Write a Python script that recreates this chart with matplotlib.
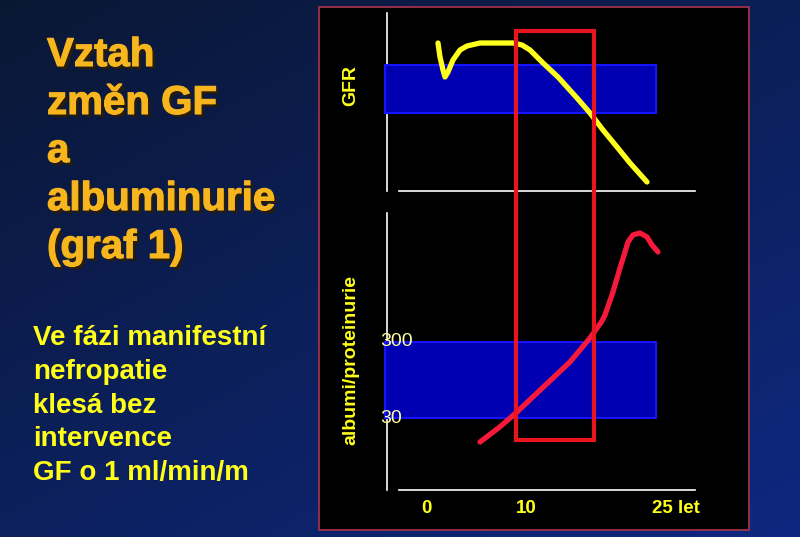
import numpy as np
import matplotlib
matplotlib.use("Agg")
import matplotlib.pyplot as plt
from matplotlib.patches import Rectangle
from matplotlib.transforms import blended_transform_factory
import matplotlib.patheffects as pe

plt.rcParams['font.family'] = ['Liberation Sans', 'DejaVu Sans']

# ---------------- data ----------------
title_lines = ["Vztah", "změn GF", "a", "albuminurie", "(graf 1)"]
note_lines = ["Ve fázi manifestní", "nefropatie", "klesá bez", "intervence", "GF o 1 ml/min/m"]

x_ticks = [0, 10, 25]
x_tick_labels = ["0", "10", "25 let"]

# GFR curve (years, GFR)
gfr_years = [1.2, 1.4, 1.7, 1.9, 2.2, 2.7, 3.4, 4.1, 5.4, 7.1, 8.7, 9.6, 10.4, 11.7,
             13.2, 15.1, 16.4, 17.7, 19.1, 20.4, 22.1]
gfr_values = [148, 134, 121, 114, 119, 131, 141, 145, 148, 148, 148, 146, 141, 128,
              114, 93, 78, 61, 44, 28, 9]

# albuminuria curve (years, mg/24h) - log scale
alb_years = [5.4, 7.4, 9.1, 11.1, 12.7, 14.4, 16.4, 17.6, 17.9, 18.7, 19.4, 19.9, 20.2,
             20.7, 21.4, 22.1, 22.6, 23.2]
alb_values = [14.5, 23, 36, 64, 101, 164, 339, 566, 680, 1365, 2825, 4585, 6210,
              7680, 8150, 7220, 5665, 4585]

gfr_normal = (78, 126)
alb_micro = (30, 300)
alb_tick_labels = ["300", "30"]
alb_tick_values = [300, 30]
band_years = (-4.1, 23.0)
window_years = (9.0, 16.8)

# ---------------- figure ----------------
W, H = 800, 537
fig = plt.figure(figsize=(W / 100, H / 100), dpi=100)

ax_bg = fig.add_axes([0, 0, 1, 1], zorder=0)
ax_bg.set_xlim(0, W)
ax_bg.set_ylim(H, 0)
ax_bg.axis('off')

# background gradient
yy, xx = np.mgrid[0:1:120j, 0:1:160j]
t = np.clip(0.55 * yy + 0.45 * xx, 0, 1)
c0 = np.array([0x0a, 0x17, 0x34]) / 255
c1 = np.array([0x0e, 0x28, 0x80]) / 255
img = c0[None, None, :] * (1 - t[..., None]) + c1[None, None, :] * t[..., None]
ax_bg.imshow(img, extent=[0, W, H, 0], aspect='auto', zorder=0, interpolation='bilinear')

# black panel
ax_bg.add_patch(Rectangle((319, 7), 430, 523, facecolor='black', edgecolor='#a0304c', lw=1.3, zorder=1))

# title with shadow
for i, line in enumerate(title_lines):
    ax_bg.text(47, 66 + 48 * i, line, fontsize=29, fontweight='bold', color='#f7b51e',
               ha='left', va='baseline', zorder=3,
               path_effects=[pe.SimplePatchShadow(offset=(2.2, -2.2), shadow_rgbFace='#2a1e08', alpha=0.95),
                             pe.Stroke(linewidth=0.8, foreground='#f7b51e'),
                             pe.Normal()])

for i, line in enumerate(note_lines):
    ax_bg.text(33, 345 + 33.8 * i, line, fontsize=20, fontweight='bold', color='#ffff1a',
               ha='left', va='baseline', zorder=3)

# data axes (pixel geometry)
def frac_box(l, t_, r, b):
    return [l / W, (H - b) / H, (r - l) / W, (b - t_) / H]

ax_bot = fig.add_axes(frac_box(387, 213, 695, 490), zorder=2)
ax_top = fig.add_axes(frac_box(387, 13, 695, 191), zorder=3)

xlim = (-3.9, 26.9)
for ax in (ax_top, ax_bot):
    ax.set_facecolor('none')
    ax.set_xlim(*xlim)
    for s in ('top', 'right'):
        ax.spines[s].set_visible(False)
    ax.spines['left'].set_color('white')
    ax.spines['bottom'].set_color('white')
    ax.spines['left'].set_linewidth(1.2)
    ax.spines['bottom'].set_linewidth(1.2)
    ax.spines['bottom'].set_bounds(-2.7, 26.9)
    ax.set_yticks([])
    ax.tick_params(axis='both', length=0)

ax_top.set_ylim(0, 178)
ax_top.set_xticks([])
ax_bot.set_yscale('log')
ax_bot.set_ylim(3.39, 14930)
ax_bot.set_yticks([])
ax_bot.yaxis.set_minor_locator(matplotlib.ticker.NullLocator())
ax_bot.set_xticks(x_ticks)
ax_bot.set_xticklabels(x_tick_labels)
ax_bot.tick_params(axis='x', pad=7, labelsize=13.5, labelcolor='#ffff1a')
for lab in ax_bot.get_xticklabels():
    lab.set_fontweight('bold')

# bands
ax_top.add_patch(Rectangle((band_years[0], gfr_normal[0]), band_years[1] - band_years[0],
                           gfr_normal[1] - gfr_normal[0], facecolor='#0000b2', edgecolor='#1414ff',
                           lw=1.5, clip_on=False, zorder=3))
ax_bot.add_patch(Rectangle((band_years[0], alb_micro[0]), band_years[1] - band_years[0],
                           alb_micro[1] - alb_micro[0], facecolor='#0000b2', edgecolor='#1414ff',
                           lw=1.5, clip_on=False, zorder=3))

# curves
ax_top.plot(gfr_years, gfr_values, color='#ffff1e', lw=3.8, solid_capstyle='round',
            solid_joinstyle='round', zorder=4, clip_on=False)
ax_bot.plot(alb_years, alb_values, color='#f51a3c', lw=3.8, solid_capstyle='round',
            solid_joinstyle='round', zorder=4, clip_on=False)

# tick-like labels for albuminuria
for v, s in zip(alb_tick_values, alb_tick_labels):
    ax_bot.text(-4.6, v, s, fontsize=14, color='#ffffa0', ha='left', va='center', zorder=5, clip_on=False)

# axis labels
ax_bg.text(351, 85, "GFR", rotation=90, fontsize=14, fontweight='bold', color='#ffff1a',
           ha='center', va='center', zorder=3)
ax_bg.text(351, 360, "albumi/proteinurie", rotation=90, fontsize=14, fontweight='bold', color='#ffff1a',
           ha='center', va='center', zorder=3)

# red time window spanning both panels
tr = blended_transform_factory(ax_top.transData, ax_bg.transData)
ax_top.add_patch(Rectangle((window_years[0], 31), window_years[1] - window_years[0], 409,
                           transform=tr, facecolor='none', edgecolor='#e8141e', lw=3.0,
                           clip_on=False, zorder=6))

fig.savefig("out.png", dpi=100, facecolor=fig.get_facecolor())
